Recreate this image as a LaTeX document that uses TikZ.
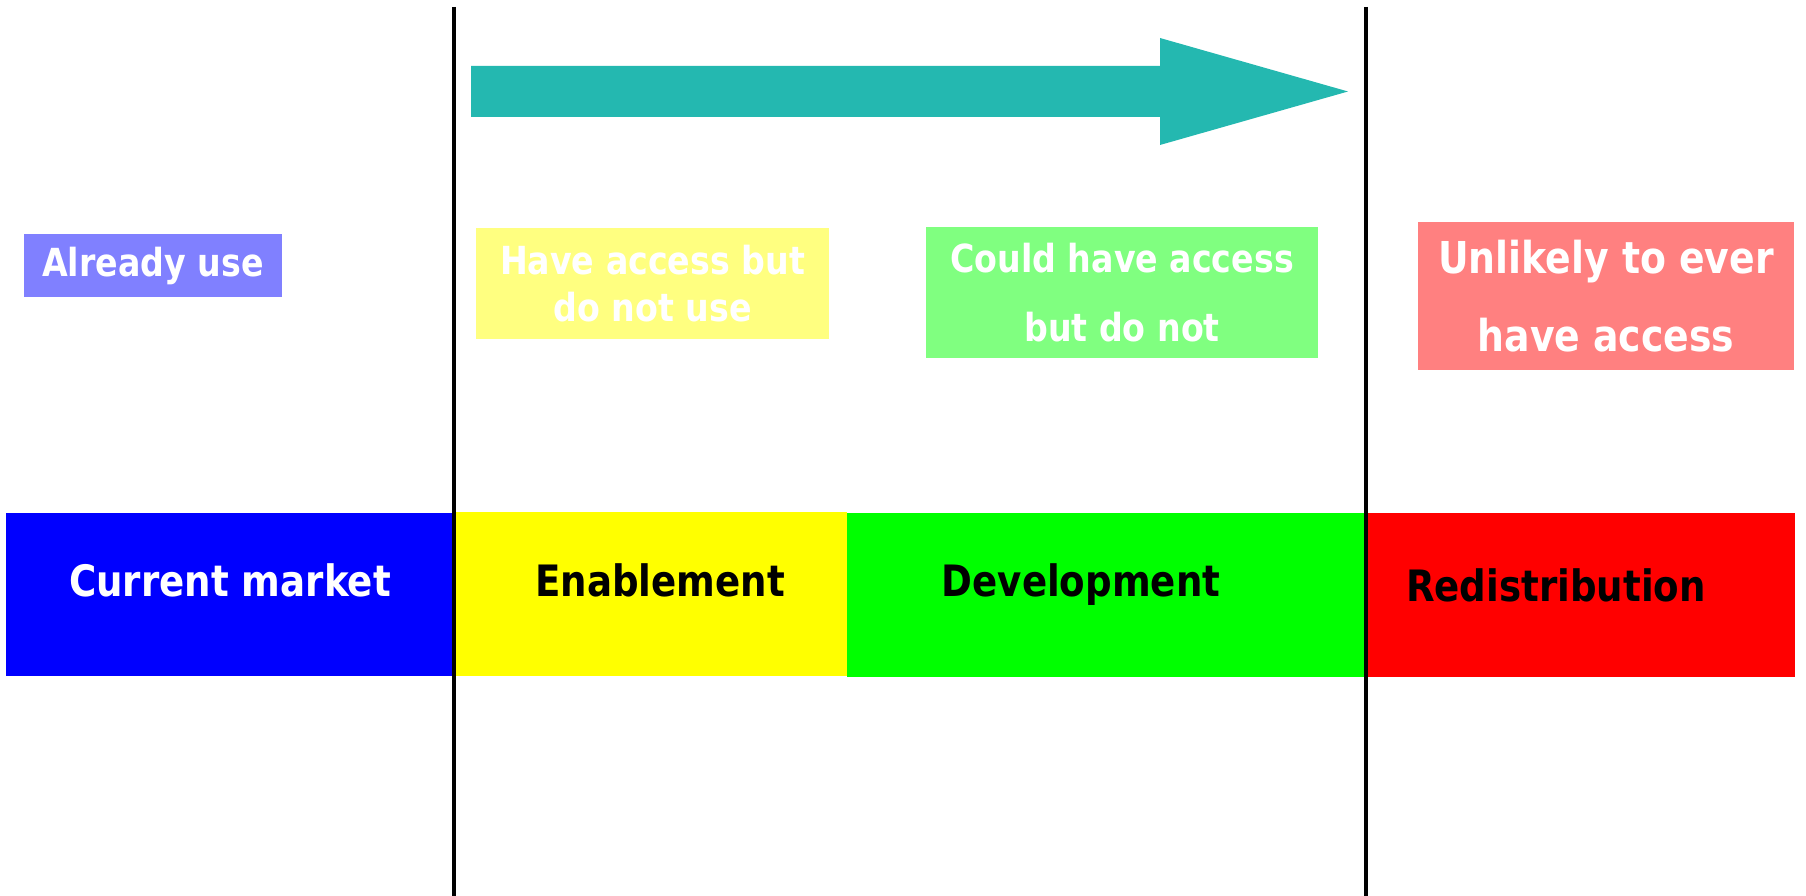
\documentclass[tikz,border=0pt]{standalone}
\usepackage{fontspec}
\setsansfont{DejaVu Sans}[FakeStretch=0.86]

\definecolor{arrowteal}{HTML}{24B8B0}
\definecolor{stageyellow}{HTML}{FFFF00}
\definecolor{paleblue}{HTML}{8080FF}
\definecolor{paleyellow}{HTML}{FFFF80}
\definecolor{palegreen}{HTML}{80FF80}
\definecolor{palered}{HTML}{FF8080}

\tikzset{
  stagebar/.style={inner sep=0pt, draw=none},
  stagetext/.style={anchor=base, inner sep=0pt, font=\sffamily\bfseries\fontsize{12.3}{14.8}\selectfont},
  groupbox/.style={inner sep=0pt, align=center, text=white, font=\sffamily\bfseries\fontsize{11}{13.4}\selectfont}
}

\begin{document}
\begin{tikzpicture}[y=-1cm]
  \useasboundingbox (0, 0) rectangle (18.06, 8.96);

  % bottom bar of stages
  \node[stagebar, fill=blue, minimum width=4.47cm, minimum height=1.63cm] (market) at (2.295, 5.945) {};
  \node[stagebar, fill=stageyellow, minimum width=3.92cm, minimum height=1.64cm] (enable) at (6.51, 5.94) {};
  \node[stagebar, fill=green, minimum width=5.19cm, minimum height=1.64cm] (develop) at (11.065, 5.95) {};
  \node[stagebar, fill=red, minimum width=4.29cm, minimum height=1.64cm] (redist) at (15.805, 5.95) {};

  \node[stagetext, text=white] (market text) at (2.30, 5.97) {Current market};
  \node[stagetext] (enable text) at (6.60, 5.97) {Enablement};
  \node[stagetext] (develop text) at (10.81, 5.97) {Development};
  \node[stagetext] (redist text) at (15.56, 6.02) {Redistribution};

  % boxes above the stages
  \node[groupbox, fill=paleblue, minimum width=2.58cm, minimum height=0.63cm] (already) at (1.53, 2.655) {Already use};
  \node[groupbox, fill=paleyellow, minimum width=3.53cm, minimum height=1.11cm] (access) at (6.525, 2.835) {Have access but\\do not use};
  \node[groupbox, fill=palegreen, minimum width=3.92cm, minimum height=1.31cm] (could) at (11.22, 2.925) {Could have access\\[6.3pt]but do not};
  \node[groupbox, fill=palered, minimum width=3.76cm, minimum height=1.48cm,
        font=\sffamily\bfseries\fontsize{12.5}{15}\selectfont] (unlikely) at (16.06, 2.96) {Unlikely to ever\\[7pt]have access};

  % big arrow
  \fill[arrowteal] (4.71, 0.66) -- (11.60, 0.66) -- (11.60, 0.38) -- (13.48, 0.915)
    -- (11.60, 1.45) -- (11.60, 1.17) -- (4.71, 1.17) -- cycle;

  % dividing lines
  \coordinate (left top) at (4.54, 0.07);
  \coordinate (left bottom) at (4.54, 8.96);
  \coordinate (right top) at (13.66, 0.07);
  \coordinate (right bottom) at (13.66, 8.96);
  \draw[line width=1.1pt] (left top) -- (left bottom);
  \draw[line width=1.1pt] (right top) -- (right bottom);
\end{tikzpicture}
\end{document}
